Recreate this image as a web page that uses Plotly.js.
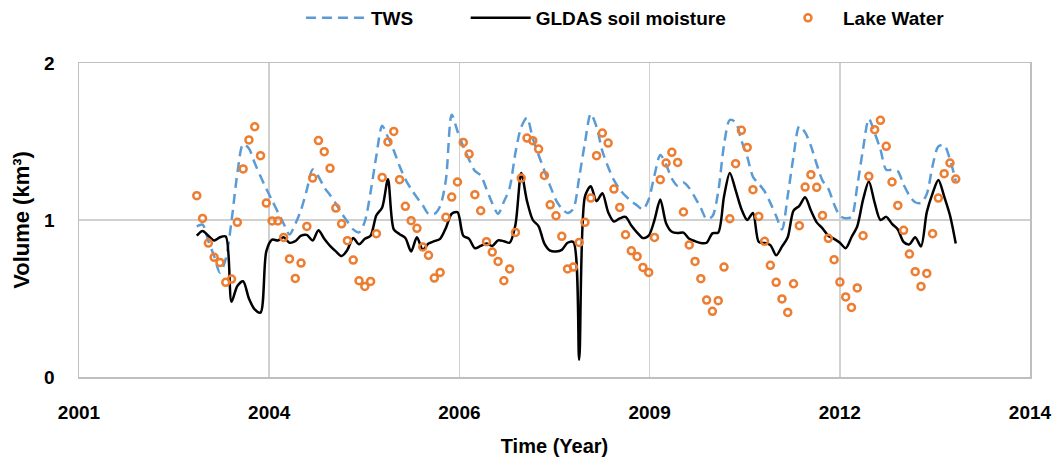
<!DOCTYPE html>
<html>
<head>
<meta charset="utf-8">
<script src="https://cdn.plot.ly/plotly-3.0.1.min.js"></script>
<style>
  html, body { margin: 0; padding: 0; background: #ffffff; }
  #chart { width: 1059px; height: 466px; }
</style>
</head>
<body>
<div id="chart"></div>
<script>
// ---- Data ----
// Monthly samples; time axis position of first sample and step (axis units)
const timeStart = 2002.61;
const timeStep = 0.0792;

const seriesNames = ['TWS', 'GLDAS soil moisture', 'Lake Water'];

const tws = [
  0.96, 0.97, 0.865, 0.77, 0.665, 0.752, 0.994, 1.296, 1.483, 1.455,
  1.363, 1.278, 1.199, 1.125, 1.05, 0.976, 0.908, 0.974, 1.065, 1.193,
  1.322, 1.277, 1.207, 1.159, 1.104, 1.042, 0.99, 0.94, 0.921, 0.99,
  1.178, 1.41, 1.60, 1.527, 1.443, 1.344, 1.259, 1.197, 1.143, 1.094,
  1.039, 1.039, 1.088, 1.256, 1.67, 1.565, 1.467, 1.384, 1.313, 1.285,
  1.198, 1.107, 1.04, 1.116, 1.205, 1.428, 1.592, 1.651, 1.518, 1.414,
  1.314, 1.216, 1.127, 1.072, 1.045, 1.072, 1.27, 1.493, 1.676, 1.593,
  1.439, 1.338, 1.254, 1.195, 1.153, 1.12, 1.093, 1.067, 1.131, 1.285,
  1.414, 1.353, 1.264, 1.218, 1.239, 1.204, 1.143, 1.076, 1.006, 1.024,
  1.18, 1.477, 1.637, 1.623, 1.506, 1.404, 1.275, 1.231, 1.183, 1.109,
  1.025, 0.94, 1.154, 1.406, 1.598, 1.558, 1.472, 1.355, 1.251, 1.2,
  1.1, 1.027, 1.011, 1.02, 1.217, 1.453, 1.645, 1.555, 1.449, 1.32,
  1.32, 1.311, 1.225, 1.156, 1.113, 1.109, 1.166, 1.345, 1.469, 1.477,
  1.385, 1.249
];

const gldas = [
  0.9, 0.93, 0.9, 0.87, 0.89, 0.895, 0.48, 0.58, 0.61, 0.5,
  0.43, 0.41, 0.8, 0.875, 0.87, 0.89, 0.855, 0.865, 0.9, 0.905,
  0.87, 0.935, 0.88, 0.835, 0.8, 0.77, 0.81, 0.885, 0.845, 0.88,
  0.9, 1.03, 1.08, 1.26, 0.94, 0.91, 0.885, 0.8, 0.89, 0.81,
  0.85, 0.865, 0.88, 0.95, 1.04, 1.05, 0.9, 0.88, 0.82, 0.835,
  0.85, 0.835, 0.87, 0.865, 0.855, 0.97, 1.3, 1.12, 1.0, 0.96,
  0.85, 0.805, 0.8, 0.81, 0.855, 0.86, 0.11, 1.15, 1.215, 1.12,
  1.17, 1.05, 0.99, 1.01, 1.02, 0.965, 0.92, 0.885, 0.9, 1.0,
  1.13, 0.98, 0.925, 0.917, 0.92, 0.88, 0.865, 0.853, 0.855, 0.915,
  0.92, 1.15, 1.3, 1.19, 1.07, 1.0, 1.045, 0.86, 0.853, 0.84,
  0.775, 0.83, 0.89, 1.06, 1.09, 1.145, 1.06, 0.985, 0.947, 0.9,
  0.88, 0.855, 0.82, 0.89, 0.96, 1.13, 1.246, 1.11, 1.0, 1.02,
  0.975, 0.94, 0.86, 0.845, 0.89, 0.832, 1.05, 1.17, 1.255, 1.15,
  1.03, 0.85
];

const lakeWater = [
  1.155, 1.01, 0.853, 0.762, 0.73, 0.603, 0.624, 0.985, 1.325, 1.51,
  1.594, 1.41, 1.108, 0.994, 0.994, 0.889, 0.752, 0.628, 0.726, 0.959,
  1.267, 1.506, 1.435, 1.329, 1.076, 0.976, 0.868, 0.745, 0.613, 0.577,
  0.609, 0.913, 1.271, 1.497, 1.564, 1.257, 1.087, 0.996, 0.947, 0.828,
  0.775, 0.63, 0.666, 1.017, 1.146, 1.242, 1.494, 1.42, 1.161, 1.059,
  0.862, 0.796, 0.736, 0.613, 0.688, 0.921, 1.267, 1.522, 1.505, 1.452,
  1.284, 1.097, 1.027, 0.896, 0.688, 0.70, 0.857, 0.985, 1.14, 1.41,
  1.554, 1.49, 1.197, 1.08, 0.906, 0.804, 0.768, 0.698, 0.666, 0.889,
  1.257, 1.363, 1.431, 1.367, 1.051, 0.841, 0.736, 0.626, 0.49, 0.418,
  0.486, 0.70, 1.008, 1.359, 1.571, 1.462, 1.193, 1.023, 0.864, 0.711,
  0.603, 0.497, 0.411, 0.594, 0.964, 1.21, 1.289, 1.208, 1.029, 0.883,
  0.747, 0.605, 0.51, 0.443, 0.567, 0.9, 1.278, 1.575, 1.635, 1.469,
  1.242, 1.093, 0.934, 0.783, 0.671, 0.577, 0.66, 0.913, 1.14, 1.295,
  1.363, 1.261
];

// X axis ticks (evenly spaced gridlines, labels as printed)
const xTickVals = [2001, 2003.6, 2006.2, 2008.8, 2011.4, 2014];
const xTickText = ['2001', '2004', '2006', '2009', '2012', '2014'];
const yTickVals = [0, 1, 2];

// ---- Build ----
const time = tws.map((_, i) => timeStart + i * timeStep);

const FONT = '"Liberation Sans", Arial, sans-serif';
const NB = '\u00a0';
// trailing non-breaking spaces only widen the gaps between legend entries
const legendNames = [
  seriesNames[0] + NB.repeat(9),
  seriesNames[1] + NB.repeat(8),
  seriesNames[2]
];

const traces = [
  {
    x: time, y: tws, name: legendNames[0], type: 'scatter', mode: 'lines',
    line: { color: '#5B9BD5', width: 2.5, dash: '10px,6px', shape: 'spline', smoothing: 0.8 }
  },
  {
    x: time, y: gldas, name: legendNames[1], type: 'scatter', mode: 'lines',
    line: { color: '#000000', width: 2.5, shape: 'spline', smoothing: 0.8 }
  },
  {
    x: time, y: lakeWater, name: legendNames[2], type: 'scatter', mode: 'markers',
    marker: { symbol: 'circle-open', size: 7, color: '#ED7D31', line: { color: '#ED7D31', width: 2.5 } }
  }
];

const layout = {
  width: 1059, height: 466,
  margin: { l: 79, r: 29, t: 63, b: 89, autoexpand: false },
  paper_bgcolor: '#ffffff', plot_bgcolor: '#ffffff',
  font: { family: FONT, color: '#000000' },
  showlegend: true,
  legend: {
    orientation: 'h', x: 0.2334, xanchor: 'left', yref: 'container', y: 0.9614, yanchor: 'middle',
    font: { family: FONT, size: 19, color: '#000000', weight: 'bold' },
    itemwidth: 60, bgcolor: 'rgba(0,0,0,0)'
  },
  xaxis: {
    range: [2001, 2014], tickmode: 'array', tickvals: xTickVals, ticktext: xTickText,
    automargin: false,
    showgrid: true, gridcolor: '#d0d0d0', gridwidth: 1.5,
    showline: true, linecolor: '#bfbfbf', linewidth: 1.5, mirror: true,
    zeroline: false, ticks: 'outside', ticklen: 18, tickcolor: 'rgba(0,0,0,0)',
    tickfont: { family: FONT, size: 19, color: '#000000', weight: 'bold' },
    title: { text: 'Time (Year)', standoff: 16, font: { family: FONT, size: 20, color: '#000000', weight: 'bold' } }
  },
  yaxis: {
    range: [0, 2], tickmode: 'array', tickvals: yTickVals,
    automargin: false,
    showgrid: true, gridcolor: '#d0d0d0', gridwidth: 1.5,
    showline: true, linecolor: '#bfbfbf', linewidth: 1.5, mirror: true,
    zeroline: false, ticks: 'outside', ticklen: 19, tickcolor: 'rgba(0,0,0,0)',
    tickfont: { family: FONT, size: 19, color: '#000000', weight: 'bold' },
    title: { text: 'Volume (km³)', standoff: 8, font: { family: FONT, size: 22, color: '#000000', weight: 'bold' } }
  }
};

Plotly.newPlot('chart', traces, layout, { displayModeBar: false, staticPlot: true });
</script>
</body>
</html>
